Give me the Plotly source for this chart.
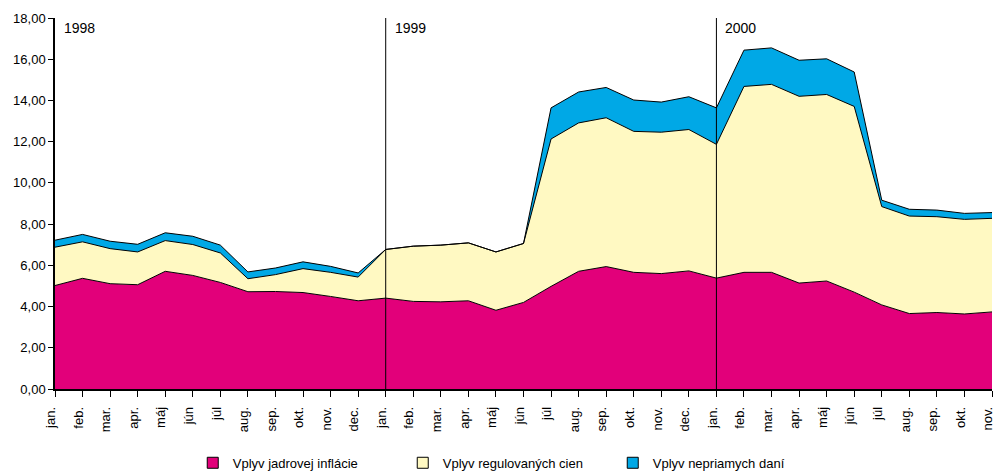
import plotly.graph_objects as go

months = ["jan.", "feb.", "mar.", "apr.", "máj", "jún", "júl", "aug.", "sep.", "okt.", "nov.", "dec."]
tick_labels = months * 2 + months[:11]
years = ["1998", "1999", "2000"]

# Cumulative tops
core = [5.02, 5.37, 5.11, 5.06, 5.71, 5.51, 5.17, 4.72, 4.73, 4.68, 4.49, 4.28,
        4.41, 4.25, 4.23, 4.28, 3.82, 4.20, 4.98, 5.71, 5.94, 5.66, 5.60, 5.73,
        5.38, 5.66, 5.66, 5.14, 5.24, 4.70, 4.08, 3.66, 3.71, 3.64, 3.74]
regulated_top = [6.88, 7.14, 6.81, 6.65, 7.20, 7.01, 6.60, 5.35, 5.55, 5.84, 5.66, 5.43,
                 6.77, 6.93, 6.98, 7.09, 6.65, 7.06, 12.13, 12.91, 13.16, 12.50, 12.46, 12.59,
                 11.87, 14.68, 14.78, 14.20, 14.29, 13.71, 8.85, 8.39, 8.36, 8.23, 8.28]
indirect_top = [7.22, 7.50, 7.17, 7.02, 7.58, 7.41, 6.98, 5.68, 5.87, 6.17, 5.95, 5.63,
                6.77, 6.93, 6.98, 7.09, 6.65, 7.06, 13.64, 14.41, 14.63, 14.02, 13.92, 14.18,
                13.64, 16.44, 16.55, 15.95, 16.02, 15.38, 9.16, 8.72, 8.68, 8.52, 8.56]

regulated = [round(r - c, 2) for r, c in zip(regulated_top, core)]
indirect = [round(i - r, 2) for i, r in zip(indirect_top, regulated_top)]

x = list(range(len(core)))

fig = go.Figure()
series = [
    ("Vplyv jadrovej inflácie", core, "#E2007A"),
    ("Vplyv regulovaných cien", regulated, "#FFF9C2"),
    ("Vplyv nepriamych daní", indirect, "#00A8E6"),
]
for name, vals, col in series:
    fig.add_trace(go.Scatter(
        x=x, y=vals, name=name, mode="lines", stackgroup="one",
        line=dict(color="black", width=1), fillcolor=col, showlegend=False,
    ))
for name, vals, col in series:
    fig.add_trace(go.Scatter(
        x=[None], y=[None], name=name, mode="markers",
        marker=dict(symbol="square", size=11, color=col, line=dict(color="black", width=1)),
    ))

for xi in (12, 24):
    fig.add_shape(type="line", x0=xi, x1=xi, y0=0, y1=18, xref="x", yref="y",
                  line=dict(color="black", width=1))

for i, yr in enumerate(years):
    fig.add_annotation(x=i * 12, y=18, text=yr, xref="x", yref="y",
                       xanchor="left", yanchor="top", xshift=7, yshift=0,
                       showarrow=False, font=dict(size=14, color="black"))

fig.update_layout(
    width=995, height=471,
    margin=dict(l=55, r=3, t=18, b=82, autoexpand=False),
    plot_bgcolor="white", paper_bgcolor="white",
    separators=", ",
    font=dict(family="Liberation Sans, Arial, sans-serif", size=13, color="black"),
    showlegend=True,
    legend=dict(orientation="h", x=0.147, xanchor="left", y=-0.199, yanchor="middle",
                entrywidth=165, entrywidthmode="pixels",
                font=dict(size=13), traceorder="normal"),
)
fig.update_xaxes(
    range=[0, 34], tickmode="array", tickvals=x, ticktext=tick_labels,
    tickangle=-90, ticks="outside", ticklen=6, tickcolor="black",
    showline=True, linecolor="black", linewidth=1.5, showgrid=False, zeroline=False,
    tickfont=dict(size=13), automargin=False,
    ticklabelstandoff=5, ticklabelshift=-4, ticklabeloverflow="allow",
)
fig.update_yaxes(
    range=[0, 18], dtick=2, tickformat=".2f",
    ticks="outside", ticklen=5, tickcolor="black",
    showline=True, linecolor="black", linewidth=1.5, showgrid=False, zeroline=False,
    tickfont=dict(size=13), automargin=False,
)

fig.write_html("out.html", config={"displayModeBar": False},
               post_script="document.body.style.margin='0';document.body.style.overflow='hidden';")
